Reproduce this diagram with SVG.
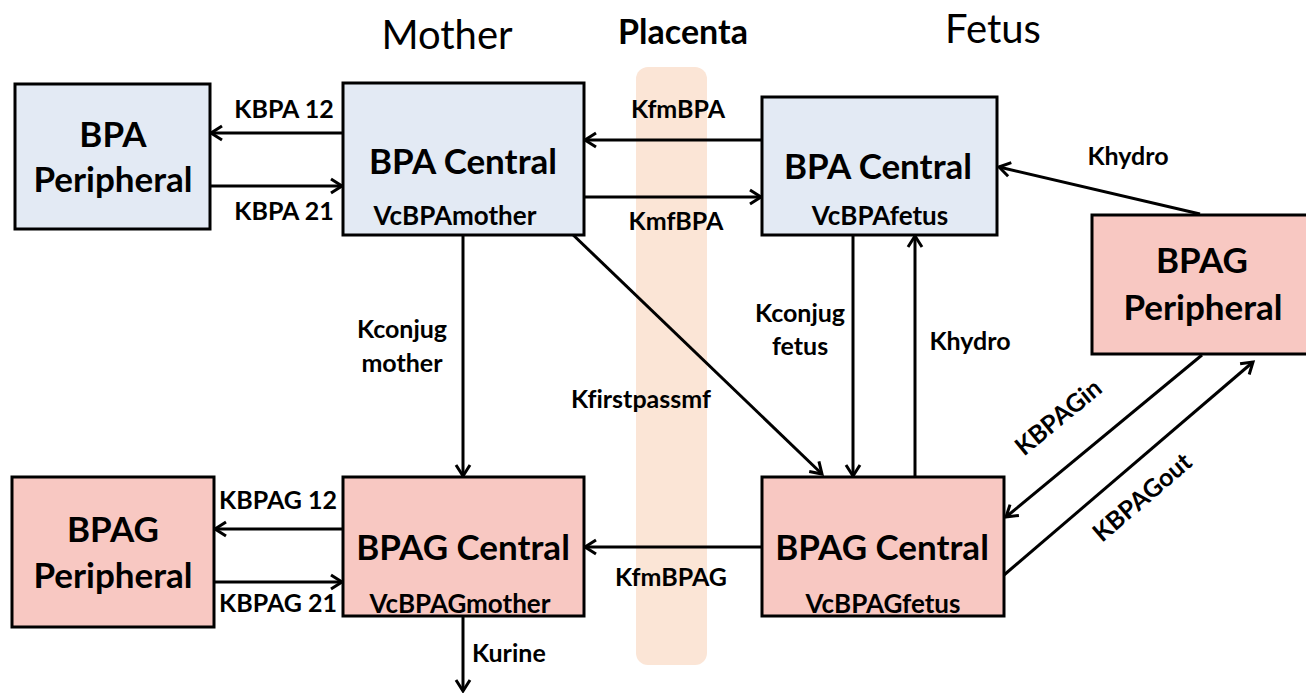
<svg xmlns="http://www.w3.org/2000/svg" width="1306" height="693" viewBox="0 0 1306 693">
<style>
text{font-variant-ligatures:none}
.blue{fill:#e3eaf4;stroke:#000;stroke-width:3}
.pink{fill:#f8c8c2;stroke:#000;stroke-width:3}
.big{font-family:Lato,"Open Sans",sans-serif;font-weight:bold;font-size:35px;fill:#000;text-anchor:middle}
.sub{font-family:Lato,"Open Sans",sans-serif;font-weight:bold;font-size:26px;fill:#000;text-anchor:middle}
.lbl{font-family:Lato,"Open Sans",sans-serif;font-weight:bold;font-size:25px;fill:#000;text-anchor:middle}
.ttl{font-family:Lato,"Open Sans",sans-serif;font-size:40px;fill:#000;text-anchor:middle}
.c{stroke:#000;stroke-width:3;fill:none;marker-end:url(#ah)}
</style>
<defs>
<marker id="ah" markerUnits="userSpaceOnUse" markerWidth="16" markerHeight="18" refX="13" refY="9" orient="auto">
<path d="M2,2 L13,9 L2,16" fill="none" stroke="#000" stroke-width="3"/>
</marker>
</defs>
<rect width="1306" height="693" fill="#fff"/>
<rect id="placenta-band" x="636" y="67" width="71" height="598" rx="12" fill="#fbe5d6"/>
<g id="titles">
<text class="ttl" x="447" y="49">Mother</text>
<text class="ttl" x="683" y="44" style="font-weight:bold;font-size:34px">Placenta</text>
<text class="ttl" x="993" y="43">Fetus</text>
</g>
<g id="connectors">
<line class="c" x1="343" y1="133" x2="211" y2="133"/>
<line class="c" x1="210" y1="186" x2="342" y2="186"/>
<line class="c" x1="762" y1="140" x2="585" y2="140"/>
<line class="c" x1="584" y1="197" x2="761" y2="197"/>
<line class="c" x1="1200" y1="214" x2="999" y2="167"/>
<line class="c" x1="463" y1="235" x2="463" y2="476"/>
<line class="c" x1="568" y1="230" x2="822" y2="474"/>
<line class="c" x1="853" y1="235" x2="853" y2="476"/>
<line class="c" x1="915" y1="477" x2="915" y2="236"/>
<line class="c" x1="1202" y1="355" x2="1006" y2="517"/>
<line class="c" x1="1004" y1="575" x2="1253" y2="362"/>
<line class="c" x1="343" y1="529" x2="215" y2="529"/>
<line class="c" x1="214" y1="582" x2="342" y2="582"/>
<line class="c" x1="762" y1="547" x2="585" y2="547"/>
<line class="c" x1="463" y1="616" x2="463" y2="691"/>
</g>
<g id="connector-labels">
<text class="lbl" x="284" y="118">KBPA 12</text>
<text class="lbl" x="284" y="220">KBPA 21</text>
<text class="lbl" x="678" y="118">KfmBPA</text>
<text class="lbl" x="676" y="230">KmfBPA</text>
<text class="lbl" x="1128" y="165">Khydro</text>
<text class="lbl" x="402" y="338">Kconjug</text>
<text class="lbl" x="402" y="372">mother</text>
<text class="lbl" x="641" y="408">Kfirstpassmf</text>
<text class="lbl" x="800" y="322">Kconjug</text>
<text class="lbl" x="800" y="355">fetus</text>
<text class="lbl" x="970" y="350">Khydro</text>
<text class="lbl" x="1058" y="426" transform="rotate(-39.5 1058 417)">KBPAGin</text>
<text class="lbl" x="1142" y="506" transform="rotate(-40.5 1142 497)">KBPAGout</text>
<text class="lbl" x="278" y="509">KBPAG 12</text>
<text class="lbl" x="278" y="612">KBPAG 21</text>
<text class="lbl" x="671" y="586">KfmBPAG</text>
<text class="lbl" x="472" y="662" style="text-anchor:start">Kurine</text>
</g>
<g id="bpa-peripheral">
<rect class="blue" x="15" y="84" width="195" height="145"/>
<text class="big" x="113" y="147">BPA</text>
<text class="big" x="113" y="192">Peripheral</text>
</g>
<g id="bpa-central-mother">
<rect class="blue" x="343" y="83" width="241" height="152"/>
<text class="big" x="463" y="174">BPA Central</text>
<text class="sub" x="455" y="225">VcBPAmother</text>
</g>
<g id="bpa-central-fetus">
<rect class="blue" x="762" y="97" width="235" height="138"/>
<text class="big" x="878" y="179">BPA Central</text>
<text class="sub" x="880" y="225">VcBPAfetus</text>
</g>
<g id="bpag-peripheral-fetus">
<rect class="pink" x="1092" y="215" width="220" height="139"/>
<text class="big" x="1202" y="273">BPAG</text>
<text class="big" x="1203" y="320">Peripheral</text>
</g>
<g id="bpag-peripheral-mother">
<rect class="pink" x="12" y="477" width="202" height="150"/>
<text class="big" x="113" y="542">BPAG</text>
<text class="big" x="113" y="588">Peripheral</text>
</g>
<g id="bpag-central-mother">
<rect class="pink" x="343" y="477" width="241" height="139"/>
<text class="big" x="463" y="560">BPAG Central</text>
<text class="sub" x="460" y="613">VcBPAGmother</text>
</g>
<g id="bpag-central-fetus">
<rect class="pink" x="762" y="477" width="242" height="139"/>
<text class="big" x="882" y="560">BPAG Central</text>
<text class="sub" x="883" y="613">VcBPAGfetus</text>
</g>
</svg>
